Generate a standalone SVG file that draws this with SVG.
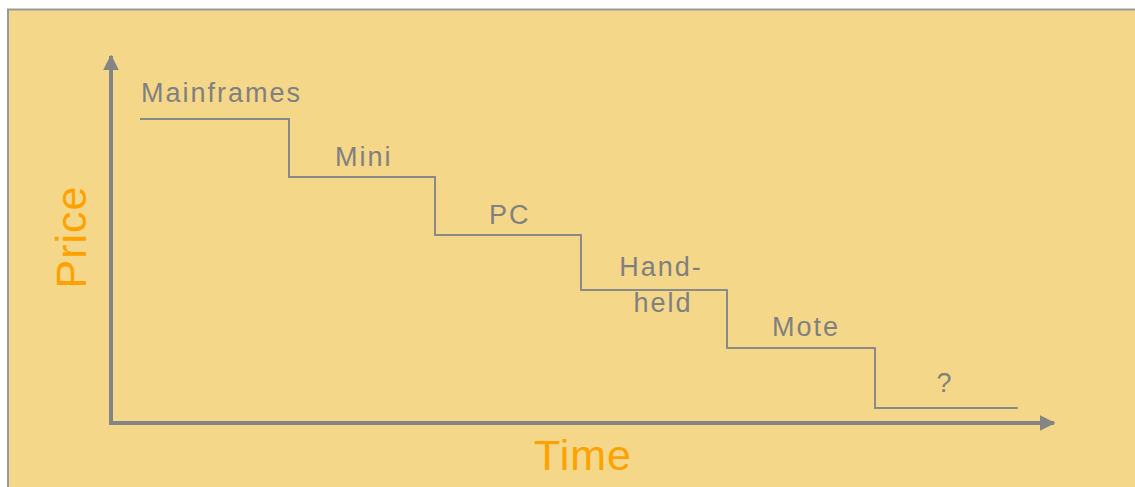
<svg xmlns="http://www.w3.org/2000/svg" width="1135" height="487" viewBox="0 0 1135 487">
  <defs>
    <style>
      .label { font-family: "Liberation Sans", Arial, sans-serif; font-size: 27px; fill: #808080; letter-spacing: 2px; }
      .axis-title { font-family: "Liberation Sans", Arial, sans-serif; font-size: 43px; fill: #FFA200; letter-spacing: 1px; }
      .axis { stroke: #858585; stroke-width: 4; fill: none; }
      .step { stroke: #8a8a8a; stroke-width: 2; fill: none; }
    </style>
    <marker id="arrow" viewBox="0 0 10 10" refX="9" refY="5" markerWidth="4" markerHeight="4" markerUnits="strokeWidth" orient="auto">
      <path d="M0,0 L10,5 L0,10 z" fill="#858585"/>
    </marker>
  </defs>

  <!-- panel -->
  <rect x="0" y="0" width="1135" height="487" fill="#ffffff"/>
  <rect x="8" y="9.5" width="1140" height="490" fill="#F4D788" stroke="#9a9a9a" stroke-width="2"/>

  <!-- axes and price steps -->
  <g id="connectors">
    <path class="axis" d="M111,423 L111,56" marker-end="url(#arrow)"/>
    <path class="axis" d="M109,423 L1054,423" marker-end="url(#arrow)"/>
    <path class="step" d="M140,119 H289 V177 H435 V235 H581 V290 H727 V348 H875 V408 H1018"/>
  </g>

  <g id="axis-price">
    <text class="axis-title" transform="translate(86,237) rotate(-90)" text-anchor="middle">Price</text>
  </g>
  <g id="axis-time">
    <text class="axis-title" x="583" y="470" text-anchor="middle">Time</text>
  </g>

  <g id="mainframes"><text class="label" x="141" y="102">Mainframes</text></g>
  <g id="mini"><text class="label" x="335" y="166">Mini</text></g>
  <g id="pc"><text class="label" x="489" y="224">PC</text></g>
  <g id="handheld">
    <text class="label" x="661" y="276" text-anchor="middle">Hand-</text>
    <text class="label" x="663" y="312" text-anchor="middle">held</text>
  </g>
  <g id="mote"><text class="label" x="772" y="336">Mote</text></g>
  <g id="unknown"><text class="label" x="945" y="392" text-anchor="middle">?</text></g>
</svg>
